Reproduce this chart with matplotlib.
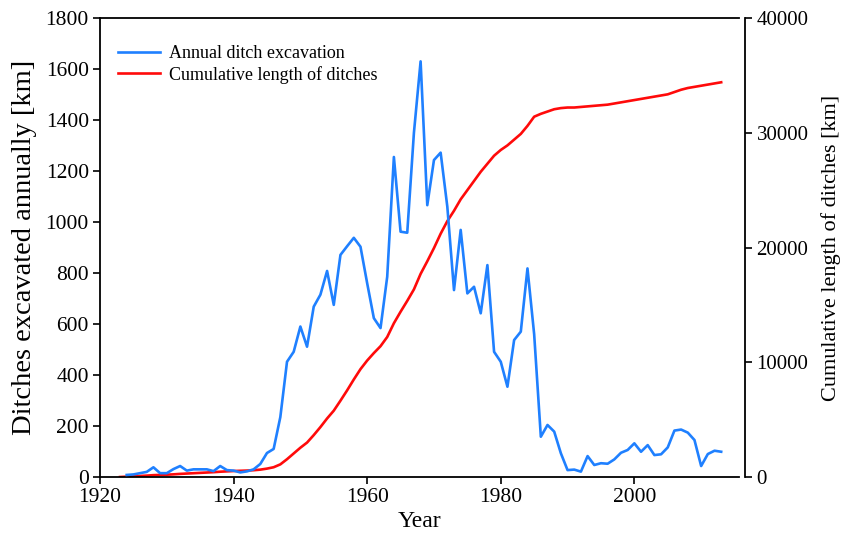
import matplotlib
matplotlib.use("Agg")
import matplotlib.pyplot as plt

plt.rcParams['font.family'] = ['Liberation Serif', 'DejaVu Serif']

# Annual ditch excavation [km], 1924-2013
years_annual = list(range(1924, 2014))
annual_km = [8, 10, 15, 20, 38, 15, 15, 31, 43, 25,
             30, 30, 30, 23, 43, 27, 25, 18, 22, 30,
             51, 94, 110, 235, 452, 491, 590, 511, 668, 715,
             808, 675, 871, 905, 938, 903, 760, 623, 584, 785,
             1255, 962, 958, 1350, 1630, 1066, 1243, 1272, 1060, 733,
             969, 720, 746, 642, 831, 491, 452, 354, 537, 570,
             818, 560, 158, 204, 178, 93, 27, 29, 21, 82,
             47, 54, 52, 69, 95, 106, 132, 99, 125, 86,
             89, 116, 182, 186, 174, 145, 43, 90, 103, 99]

# Cumulative length of ditches [km], 1923-2013
years_cum = list(range(1923, 2014))
cum_km = [0, 30, 60, 90, 120, 160, 180, 200, 230, 270,
          300, 330, 360, 390, 420, 460, 490, 520, 540, 560,
          590, 640, 730, 850, 1100, 1550, 2050, 2550, 3000, 3650,
          4350, 5100, 5780, 6650, 7550, 8500, 9400, 10150, 10800, 11400,
          12200, 13400, 14400, 15350, 16350, 17700, 18800, 19950, 21200, 22300,
          23200, 24200, 25000, 25800, 26600, 27300, 28000, 28500, 28900, 29400,
          29900, 30600, 31400, 31650, 31850, 32050, 32150, 32200, 32200, 32250,
          32300, 32350, 32400, 32450, 32550, 32650, 32750, 32850, 32950, 33050,
          33150, 33250, 33350, 33550, 33750, 33900, 34000, 34100, 34200, 34300,
          34400]

fig = plt.figure(figsize=(8.43, 5.38), dpi=100)
ax = fig.add_axes([0.1186, 0.1134, 0.7575, 0.8531])
ax2 = ax.twinx()

l1, = ax.plot(years_annual, annual_km, color='#1f80ff', lw=1.9,
              label='Annual ditch excavation', zorder=3)
l2, = ax2.plot(years_cum, cum_km, color='#ff0a0a', lw=1.9,
               label='Cumulative length of ditches')
ax.set_zorder(ax2.get_zorder() + 1)
ax.patch.set_visible(False)

ax.set_xlim(1920, 2015.6)
ax.set_ylim(0, 1800)
ax2.set_ylim(0, 40000)
ax.set_xticks([1920, 1940, 1960, 1980, 2000])
ax.set_yticks(range(0, 1801, 200))
ax2.set_yticks(range(0, 40001, 10000))

for a in (ax, ax2):
    for s in a.spines.values():
        s.set_linewidth(1.3)
ax.spines['right'].set_visible(False)
ax2.spines['left'].set_visible(False)
ax2.spines['top'].set_visible(False)
ax2.spines['bottom'].set_visible(False)
ax2.spines['right'].set_position(('outward', 5))

ax.tick_params(axis='both', direction='out', length=5, width=1.2,
               labelsize=15.5, pad=3)
ax2.tick_params(axis='y', direction='out', length=5, width=1.2,
                labelsize=15, pad=3)

ax.set_xlabel('Year', fontsize=17, labelpad=3)
ax.set_ylabel('Ditches excavated annually [km]', fontsize=20.5, labelpad=6)
ax2.set_ylabel('Cumulative length of ditches [km]', fontsize=16, labelpad=9)

ax.legend(handles=[l1, l2], loc='upper left', frameon=False, fontsize=13,
          handlelength=2.3, handletextpad=0.5, borderaxespad=0.6,
          labelspacing=0.2, bbox_to_anchor=(0.0, 0.98))

fig.savefig('out.png', dpi=100)
